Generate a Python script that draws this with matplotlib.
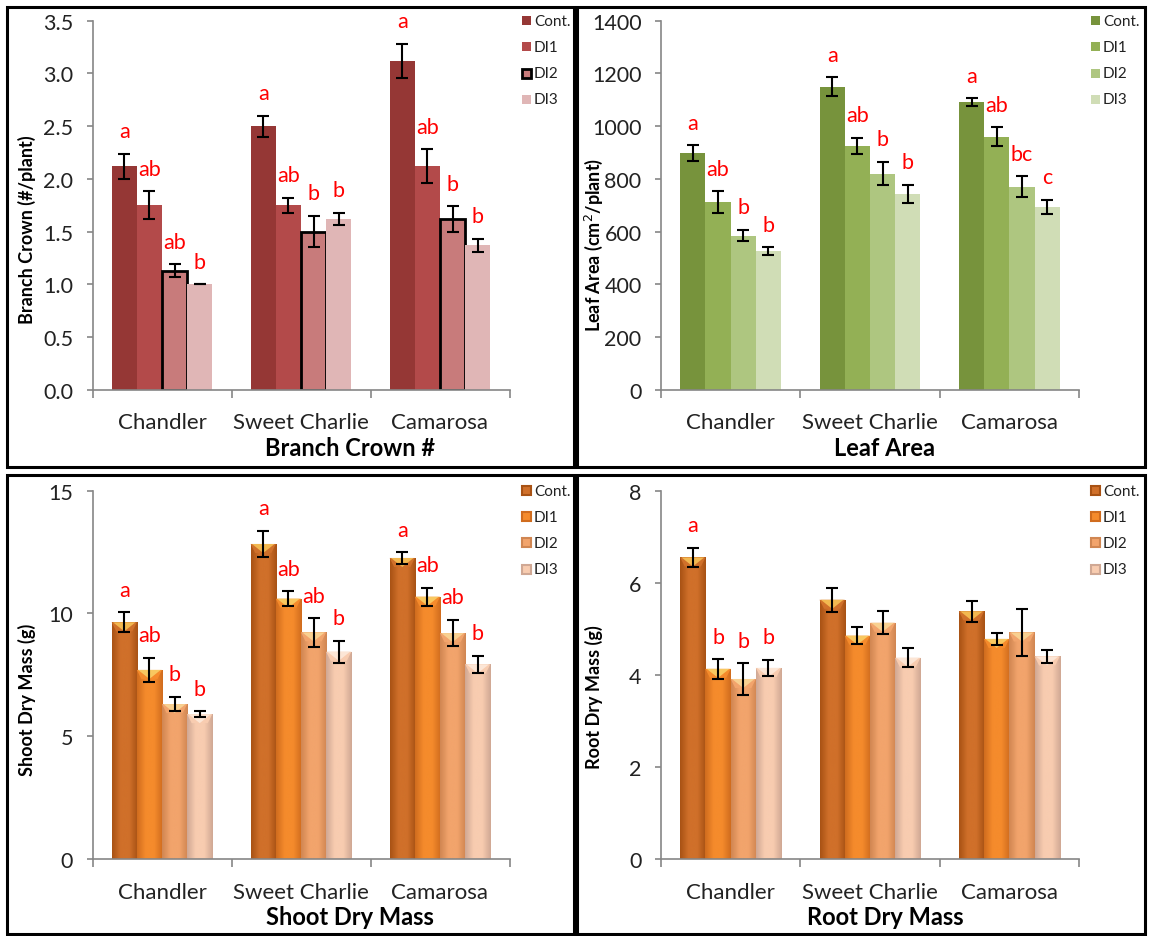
import numpy as np
import matplotlib
matplotlib.use("Agg")
import matplotlib.pyplot as plt
from matplotlib.patches import Rectangle, Polygon
from matplotlib.colors import LinearSegmentedColormap

plt.rcParams['font.family'] = ['Lato', 'DejaVu Sans']

# ---------------- data ----------------
cultivars = ["Chandler", "Sweet Charlie", "Camarosa"]
treatments = ["Cont.", "DI1", "DI2", "DI3"]

# Branch crown (#/plant)
crown_cont = [2.12, 2.50, 3.12]
crown_di1 = [1.75, 1.75, 2.12]
crown_di2 = [1.13, 1.50, 1.62]
crown_di3 = [1.00, 1.62, 1.37]
crown_err_cont = [0.12, 0.10, 0.16]
crown_err_di1 = [0.13, 0.07, 0.16]
crown_err_di2 = [0.06, 0.15, 0.12]
crown_err_di3 = [0.00, 0.06, 0.06]
crown_letters_cont = ["a", "a", "a"]
crown_letters_di1 = ["ab", "ab", "ab"]
crown_letters_di2 = ["ab", "b", "b"]
crown_letters_di3 = ["b", "b", "b"]

# Leaf area (cm2/plant)
leaf_cont = [898, 1150, 1090]
leaf_di1 = [712, 925, 960]
leaf_di2 = [585, 820, 770]
leaf_di3 = [525, 742, 693]
leaf_err_cont = [30, 35, 15]
leaf_err_di1 = [40, 30, 35]
leaf_err_di2 = [22, 45, 40]
leaf_err_di3 = [15, 35, 28]
leaf_letters_cont = ["a", "a", "a"]
leaf_letters_di1 = ["ab", "ab", "ab"]
leaf_letters_di2 = ["b", "b", "bc"]
leaf_letters_di3 = ["b", "b", "c"]

# Shoot dry mass (g)
shoot_cont = [9.64, 12.83, 12.26]
shoot_di1 = [7.70, 10.60, 10.68]
shoot_di2 = [6.31, 9.23, 9.20]
shoot_di3 = [5.90, 8.44, 7.93]
shoot_err_cont = [0.40, 0.54, 0.24]
shoot_err_di1 = [0.50, 0.30, 0.37]
shoot_err_di2 = [0.30, 0.58, 0.54]
shoot_err_di3 = [0.12, 0.44, 0.34]
shoot_letters_cont = ["a", "a", "a"]
shoot_letters_di1 = ["ab", "ab", "ab"]
shoot_letters_di2 = ["b", "ab", "ab"]
shoot_letters_di3 = ["b", "b", "b"]

# Root dry mass (g)
root_cont = [6.55, 5.63, 5.38]
root_di1 = [4.13, 4.85, 4.78]
root_di2 = [3.91, 5.13, 4.92]
root_di3 = [4.15, 4.37, 4.40]
root_err_cont = [0.21, 0.26, 0.23]
root_err_di1 = [0.21, 0.19, 0.13]
root_err_di2 = [0.34, 0.25, 0.50]
root_err_di3 = [0.18, 0.21, 0.14]
root_letters_cont = ["a", "", ""]
root_letters_di1 = ["b", "", ""]
root_letters_di2 = ["b", "", ""]
root_letters_di3 = ["b", "", ""]

# ---------------- styling ----------------
red_colors = ["#953735", "#B34A4A", "#C87B7B", "#E0B6B6"]
green_colors = ["#77933C", "#93B055", "#AEC680", "#D0DDB6"]
orange_center = ["#D0702A", "#F58B2C", "#F2A46C", "#F8CCB0"]
orange_edge = ["#A85214", "#D06C1E", "#D08652", "#D0A894"]
bevel_color = ["#F2B850", "#F8C860", "#F8D090", "#FCE6D6"]

AXIS_GRAY = "#868686"
W, H = 1149, 937
fig = plt.figure(figsize=(W / 100, H / 100), dpi=100)


def fx(px):
    return px / W


def fy(py):
    return 1 - py / H


def panel_box(x0, y0, x1, y1):
    fig.add_artist(Rectangle((fx(x0), fy(y1)), fx(x1 - x0), (y1 - y0) / H,
                             transform=fig.transFigure, fill=False,
                             edgecolor="black", linewidth=2.2, zorder=10))


def make_axes(x0, y0, x1, y1):
    ax = fig.add_axes([fx(x0), fy(y1), fx(x1 - x0), (y1 - y0) / H])
    for s in ["top", "right"]:
        ax.spines[s].set_visible(False)
    for s in ["left", "bottom"]:
        ax.spines[s].set_color(AXIS_GRAY)
        ax.spines[s].set_linewidth(1.2)
    ax.set_xlim(-0.5, 2.5)
    ax.set_xticks([-0.5, 0.5, 1.5, 2.5])
    ax.set_xticklabels([])
    ax.tick_params(axis="x", direction="out", length=6, width=1.2, color=AXIS_GRAY)
    ax.tick_params(axis="y", direction="out", length=4, width=1.2, color=AXIS_GRAY,
                   labelsize=15.5, pad=10, labelcolor="#222222")
    for i, c in enumerate(cultivars):
        ax.annotate(c, xy=(i, 0), xycoords=("data", "axes fraction"),
                    xytext=(0, -23.5), textcoords="offset points",
                    ha="center", va="center", fontsize=16, color="#222222")
    return ax


def letters_on(ax, x, tops, labels):
    for xi, t, lab in zip(x, tops, labels):
        if lab:
            ax.annotate(lab, xy=(xi, t), xytext=(0, 9), textcoords="offset points",
                        ha="center", va="bottom", color="red", fontsize=15.5)


def plain_panel(ax, series, errs, letters, colors, edge_idx=None):
    w = 0.181
    x = np.arange(len(cultivars))
    for k in range(len(series)):
        xs = x + (k - 1.5) * w
        ec = "black" if k == edge_idx else "none"
        lw = 2.0 if k == edge_idx else 0
        ax.bar(xs, series[k], width=w, color=colors[k], edgecolor=ec,
               linewidth=lw, zorder=2, label=treatments[k])
        ax.errorbar(xs, series[k], yerr=errs[k], fmt="none", ecolor="black",
                    elinewidth=1.5, capsize=4.5, capthick=1.5, zorder=3)
        tops = np.array(series[k]) + np.array(errs[k])
        letters_on(ax, xs, tops, letters[k])


def gradient_panel(ax, series, errs, letters, ymax):
    w = 0.181
    x = np.arange(len(cultivars))
    bevel_h = ymax * 9 / 368
    for k in range(len(series)):
        cmap = LinearSegmentedColormap.from_list(
            "g%d" % k, [orange_edge[k], orange_center[k], orange_center[k], orange_edge[k]])
        grad = np.linspace(0, 1, 64).reshape(1, -1)
        xs = x + (k - 1.5) * w
        bars = ax.bar(xs, series[k], width=w, color=orange_center[k],
                      edgecolor="none", zorder=2, label=treatments[k])
        for b, v in zip(bars, series[k]):
            x0 = b.get_x()
            im = ax.imshow(grad, cmap=cmap, aspect="auto",
                           extent=(x0, x0 + w, 0, v), zorder=2.1,
                           interpolation="bicubic")
            im.set_clip_path(b)
            bev = Polygon([(x0, v), (x0 + w, v), (x0 + w * 0.82, v - bevel_h),
                           (x0 + w * 0.18, v - bevel_h)], closed=True,
                          facecolor=orange_center[k], edgecolor="none", zorder=2.2)
            ax.add_patch(bev)
            tri = Polygon([(x0 + w * 0.05, v), (x0 + w * 0.95, v), (x0 + w / 2, v - bevel_h)],
                          closed=True, facecolor=bevel_color[k], edgecolor="none",
                          zorder=2.3)
            ax.add_patch(tri)
        ax.errorbar(xs, series[k], yerr=errs[k], fmt="none", ecolor="black",
                    elinewidth=1.5, capsize=4.5, capthick=1.5, zorder=3)
        tops = np.array(series[k]) + np.array(errs[k])
        letters_on(ax, xs, tops, letters[k])
    ax.set_xlim(-0.5, 2.5)


def legend_block(x_sq, y_rows, colors, edge_idx=None, edge_colors=None):
    for k, (t, yr) in enumerate(zip(treatments, y_rows)):
        sq = 9
        ec = "none"
        lw = 0
        if edge_idx is not None and k == edge_idx:
            ec, lw = "black", 2.0
        elif edge_colors is not None:
            ec, lw = edge_colors[k], 1.5
        fig.add_artist(Rectangle((fx(x_sq), fy(yr + sq / 2)), fx(sq), sq / H,
                                 transform=fig.transFigure, facecolor=colors[k],
                                 edgecolor=ec, linewidth=lw, zorder=11))
        fig.text(fx(x_sq + sq + 3), fy(yr), t, ha="left", va="center",
                 fontsize=11, color="#222222")


def axis_titles(ax_title_x, ax_title_y, title, ylab_x, ylab_y, ylab):
    fig.text(fx(ax_title_x), fy(ax_title_y), title, ha="center", va="center",
             fontsize=17, fontweight="bold", color="black")
    fig.text(fx(ylab_x), fy(ylab_y), ylab, ha="center", va="center",
             rotation=90, fontsize=13, fontweight="bold", color="black")


# ---------------- Panel 1: Branch crown ----------------
ax1 = make_axes(92.5, 21.7, 509.5, 390.7)
plain_panel(ax1, [crown_cont, crown_di1, crown_di2, crown_di3],
            [crown_err_cont, crown_err_di1, crown_err_di2, crown_err_di3],
            [crown_letters_cont, crown_letters_di1, crown_letters_di2, crown_letters_di3],
            red_colors, edge_idx=2)
ax1.set_ylim(0, 3.5)
ax1.set_yticks(np.arange(0, 3.51, 0.5))
ax1.set_yticklabels(["%.1f" % v for v in np.arange(0, 3.51, 0.5)])
panel_box(7, 8, 574, 468)
legend_block(522, [21.7, 47.7, 74, 100], red_colors, edge_idx=2)
axis_titles(350, 448, "Branch Crown #", 27, 230, "Branch Crown (#/plant)")

# ---------------- Panel 2: Leaf area ----------------
ax2 = make_axes(661, 21.7, 1079, 390.7)
plain_panel(ax2, [leaf_cont, leaf_di1, leaf_di2, leaf_di3],
            [leaf_err_cont, leaf_err_di1, leaf_err_di2, leaf_err_di3],
            [leaf_letters_cont, leaf_letters_di1, leaf_letters_di2, leaf_letters_di3],
            green_colors)
ax2.set_ylim(0, 1400)
ax2.set_yticks(np.arange(0, 1401, 200))
panel_box(577, 8, 1145, 468)
legend_block(1091, [21.7, 47.7, 74, 100], green_colors)
axis_titles(885, 448, "Leaf Area", 594, 245, "Leaf Area (cm$^{2}$/plant)")

# ---------------- Panel 3: Shoot dry mass ----------------
ax3 = make_axes(92.5, 491.7, 509.5, 860)
gradient_panel(ax3, [shoot_cont, shoot_di1, shoot_di2, shoot_di3],
               [shoot_err_cont, shoot_err_di1, shoot_err_di2, shoot_err_di3],
               [shoot_letters_cont, shoot_letters_di1, shoot_letters_di2, shoot_letters_di3],
               15)
ax3.set_ylim(0, 15)
ax3.set_yticks([0, 5, 10, 15])
panel_box(7, 476, 574, 935)
legend_block(522, [491.7, 517.7, 543.5, 570], orange_center, edge_colors=orange_edge)
axis_titles(350, 918, "Shoot Dry Mass", 27, 700, "Shoot Dry Mass (g)")

# ---------------- Panel 4: Root dry mass ----------------
ax4 = make_axes(661, 491.7, 1079, 860)
gradient_panel(ax4, [root_cont, root_di1, root_di2, root_di3],
               [root_err_cont, root_err_di1, root_err_di2, root_err_di3],
               [root_letters_cont, root_letters_di1, root_letters_di2, root_letters_di3],
               8)
ax4.set_ylim(0, 8)
ax4.set_yticks([0, 2, 4, 6, 8])
panel_box(577, 476, 1145, 935)
legend_block(1091, [491.7, 517.7, 543.5, 570], orange_center, edge_colors=orange_edge)
axis_titles(885, 918, "Root Dry Mass", 594, 697, "Root Dry Mass (g)")

fig.savefig("out.png", dpi=100)
